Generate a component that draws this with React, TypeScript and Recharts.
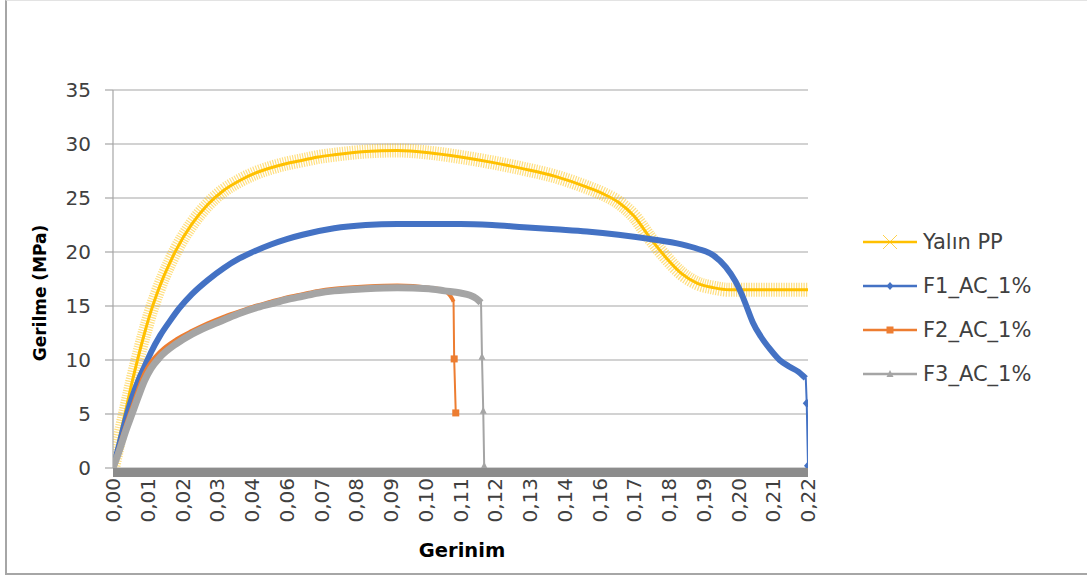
import { LineChart, Line, XAxis, YAxis, CartesianGrid, ReferenceLine, Legend, Label } from 'recharts';

// Gerinim (strain) / Gerilme (MPa) değerleri
const yalinStrain = [0, 0.002, 0.004, 0.006, 0.008, 0.01, 0.012, 0.014, 0.016, 0.018, 0.02, 0.025, 0.03, 0.035, 0.04, 0.045, 0.05, 0.055, 0.06, 0.065, 0.07, 0.08, 0.09, 0.1, 0.11, 0.12, 0.13, 0.14, 0.15, 0.155, 0.16, 0.165, 0.17, 0.175, 0.18, 0.185, 0.19, 0.195, 0.2, 0.21, 0.22];
const yalinStress = [0, 2.7, 5.3, 7.9, 10.3, 12.5, 14.5, 16.2, 17.7, 19.0, 20.2, 22.6, 24.4, 25.7, 26.6, 27.3, 27.8, 28.2, 28.5, 28.8, 29.0, 29.3, 29.4, 29.2, 28.8, 28.3, 27.7, 27.0, 26.0, 25.4, 24.6, 23.3, 21.3, 19.5, 18.0, 17.1, 16.7, 16.5, 16.5, 16.5, 16.5];

const f1Strain = [0, 0.002, 0.004, 0.006, 0.008, 0.01, 0.012, 0.015, 0.018, 0.021, 0.025, 0.03, 0.035, 0.04, 0.045, 0.05, 0.055, 0.06, 0.07, 0.08, 0.09, 0.1, 0.11, 0.12, 0.13, 0.14, 0.15, 0.16, 0.17, 0.18, 0.185, 0.19, 0.194, 0.197, 0.199, 0.2005, 0.2025, 0.205, 0.208, 0.211, 0.214, 0.217, 0.2193, 0.2196, 0.22];
const f1Stress = [0, 2.2, 4.5, 6.5, 8.1, 9.4, 10.7, 12.3, 13.6, 14.8, 16.1, 17.4, 18.5, 19.4, 20.1, 20.7, 21.2, 21.6, 22.2, 22.5, 22.6, 22.6, 22.6, 22.5, 22.3, 22.1, 21.9, 21.6, 21.2, 20.7, 20.3, 19.7, 18.6, 17.3, 16.1, 15.0, 13.5, 12.2, 11.0, 10.0, 9.4, 8.9, 8.3, 6.0, 0.2];

const f2Strain = [0, 0.002, 0.004, 0.006, 0.008, 0.01, 0.012, 0.015, 0.02, 0.025, 0.03, 0.035, 0.04, 0.045, 0.05, 0.055, 0.06, 0.065, 0.07, 0.08, 0.09, 0.1, 0.104, 0.106, 0.1075, 0.1078, 0.108, 0.1085];
const f2Stress = [0, 2.0, 3.9, 5.6, 7.3, 8.8, 9.8, 10.8, 11.9, 12.7, 13.4, 14.0, 14.5, 15.0, 15.4, 15.8, 16.1, 16.4, 16.6, 16.8, 16.9, 16.7, 16.5, 16.2, 15.6, 15.4, 10.1, 5.1];

const f3Strain = [0, 0.002, 0.004, 0.006, 0.008, 0.01, 0.012, 0.015, 0.02, 0.025, 0.03, 0.035, 0.04, 0.045, 0.05, 0.055, 0.06, 0.065, 0.07, 0.08, 0.09, 0.1, 0.105, 0.11, 0.113, 0.115, 0.1165, 0.1168, 0.1172, 0.1175];
const f3Stress = [0, 1.6, 3.4, 5.0, 6.6, 8.1, 9.2, 10.3, 11.5, 12.4, 13.1, 13.7, 14.3, 14.8, 15.2, 15.6, 15.9, 16.2, 16.4, 16.6, 16.7, 16.6, 16.4, 16.2, 16.0, 15.7, 15.3, 10.3, 5.3, 0.2];

const xTickLabels = ['0,00', '0,01', '0,02', '0,03', '0,04', '0,06', '0,07', '0,08', '0,09', '0,10', '0,11', '0,12', '0,13', '0,14', '0,16', '0,17', '0,18', '0,19', '0,20', '0,21', '0,22'];
const yTicks = [0, 5, 10, 15, 20, 25, 30, 35];

const seriesNames = ['Yalın PP', 'F1_AC_1%', 'F2_AC_1%', 'F3_AC_1%'];
const seriesColors = ['#FFC000', '#4472C4', '#ED7D31', '#A5A5A5'];

const toPoints = (xs: number[], ys: number[]) => xs.map((x, i) => ({ x, y: ys[i] }));

const yalin = toPoints(yalinStrain, yalinStress);
const f1 = toPoints(f1Strain, f1Stress);
const f2 = toPoints(f2Strain, f2Stress);
const f3 = toPoints(f3Strain, f3Stress);

// kırılma anındaki son noktalar işaretçiyle gösteriliyor
const f1Drop = f1.slice(-2);
const f2Drop = f2.slice(-2);
const f3Drop = f3.slice(-3);

const xTicks = xTickLabels.map((_, i) => (i * 0.22) / (xTickLabels.length - 1));

const FONT = '"DejaVu Sans", sans-serif';

const Diamond = (p: any) => (
  <path key={`dm-${p.index}`} d={`M${p.cx},${p.cy - 4.5}L${p.cx + 4},${p.cy}L${p.cx},${p.cy + 4.5}L${p.cx - 4},${p.cy}Z`} fill="#4472C4" />
);
const Square = (p: any) => (
  <rect key={`sq-${p.index}`} x={p.cx - 3.5} y={p.cy - 3.5} width={7} height={7} fill="#ED7D31" />
);
const Triangle = (p: any) => (
  <path key={`tr-${p.index}`} d={`M${p.cx},${p.cy - 4}L${p.cx + 3.5},${p.cy + 3}L${p.cx - 3.5},${p.cy + 3}Z`} fill="#A5A5A5" />
);

const XTick = (props: any) => {
  const { x, y, index } = props;
  const ax = x + 7;
  const ay = y + 2;
  return (
    <text x={ax} y={ay} transform={`rotate(-90 ${ax} ${ay})`} textAnchor="end" fontSize={20} fontFamily={FONT} fill="#404040">
      {xTickLabels[index]}
    </text>
  );
};

const LegendIcon = ({ i }: { i: number }) => {
  const c = seriesColors[i];
  const cx = 27;
  const cy = 10;
  let marker = null;
  if (i === 0) {
    marker = (
      <g stroke={c} strokeWidth={1} opacity={0.7}>
        <line x1={cx - 7} y1={cy - 7} x2={cx + 7} y2={cy + 7} />
        <line x1={cx - 7} y1={cy + 7} x2={cx + 7} y2={cy - 7} />
      </g>
    );
  } else if (i === 1) {
    marker = <path d={`M${cx},${cy - 4}L${cx + 3.5},${cy}L${cx},${cy + 4}L${cx - 3.5},${cy}Z`} fill={c} />;
  } else if (i === 2) {
    marker = <rect x={cx - 3.5} y={cy - 3.5} width={7} height={7} fill={c} />;
  } else {
    marker = <path d={`M${cx},${cy - 4}L${cx + 3.5},${cy + 3}L${cx - 3.5},${cy + 3}Z`} fill={c} />;
  }
  return (
    <svg width={54} height={20} style={{ display: 'block' }}>
      <line x1={0} y1={cy} x2={54} y2={cy} stroke={c} strokeWidth={2.5} />
      {marker}
    </svg>
  );
};

const renderLegend = () => (
  <div style={{ fontFamily: FONT }}>
    {seriesNames.map((name, i) => (
      <div key={name} style={{ display: 'flex', alignItems: 'center', height: 44 }}>
        <LegendIcon i={i} />
        <span style={{ marginLeft: 6, fontSize: 21, color: '#404040' }}>{name}</span>
      </div>
    ))}
  </div>
);

export default function App() {
  return (
    <div style={{ position: 'absolute', left: 0, top: 0, width: 1087, height: 576, background: '#fff', overflow: 'hidden' }}>
      <div
        style={{
          position: 'absolute',
          left: 5,
          top: 0,
          width: 1100,
          height: 572,
          borderLeft: '2px solid #a6a6a6',
          borderBottom: '2px solid #a6a6a6',
          borderTop: '1px solid #e3e3e3',
        }}
      />
      <LineChart width={1087} height={576} margin={{ top: 90, right: 279, bottom: 48, left: 0 }} style={{ position: 'absolute', left: 0, top: 0 }}>
        <CartesianGrid horizontal vertical={false} stroke="#a6a6a6" strokeWidth={1.2} />
        <XAxis
          type="number"
          dataKey="x"
          domain={[0, 0.22]}
          allowDataOverflow
          ticks={xTicks}
          interval={0}
          height={60}
          axisLine={false}
          tickLine={false}
          tick={<XTick />}
        >
          <Label
            content={() => (
              <text x={462} y={557} textAnchor="middle" fontSize={19.5} fontWeight="bold" fontFamily={FONT} fill="#000">
                Gerinim
              </text>
            )}
          />
        </XAxis>
        <YAxis
          type="number"
          domain={[0, 35]}
          allowDataOverflow
          ticks={yTicks}
          interval={0}
          width={113}
          axisLine={{ stroke: '#a6a6a6', strokeWidth: 1.2 }}
          tickLine={{ stroke: '#a6a6a6', strokeWidth: 1.2 }}
          tickSize={8}
          tickMargin={14}
          tick={{ fontSize: 20, fontFamily: FONT, fill: '#404040' }}
        >
          <Label
            content={() => (
              <text x={46} y={293} transform="rotate(-90 46 293)" textAnchor="middle" fontSize={17} fontWeight="bold" fontFamily={FONT} fill="#000">
                Gerilme (MPa)
              </text>
            )}
          />
        </YAxis>

        {/* Yalın PP: yoğun X işaretçileri geniş, taralı bir bant oluşturur */}
        <Line data={yalin} dataKey="y" type="monotone" stroke="#FFC000" strokeOpacity={0.5} strokeWidth={14} strokeDasharray="1.2 1.3" dot={false} isAnimationActive={false} legendType="none" />
        <Line data={yalin} dataKey="y" type="monotone" stroke="#FFC000" strokeWidth={3} dot={false} isAnimationActive={false} legendType="none" />

        <Line data={f1.slice(0, -2)} dataKey="y" type="monotone" stroke="#4472C4" strokeWidth={6} dot={false} isAnimationActive={false} legendType="none" />
        <Line data={f1} dataKey="y" type="linear" stroke="#4472C4" strokeWidth={2} dot={false} isAnimationActive={false} legendType="none" />
        <Line data={f1Drop} dataKey="y" stroke="none" dot={Diamond} isAnimationActive={false} legendType="none" />

        <Line data={f2.slice(0, -2)} dataKey="y" type="monotone" stroke="#ED7D31" strokeWidth={4} dot={false} isAnimationActive={false} legendType="none" />
        <Line data={f2} dataKey="y" type="linear" stroke="#ED7D31" strokeWidth={2} dot={false} isAnimationActive={false} legendType="none" />
        <Line data={f2Drop} dataKey="y" stroke="none" dot={Square} isAnimationActive={false} legendType="none" />

        <Line data={f3.slice(0, -3)} dataKey="y" type="monotone" stroke="#A5A5A5" strokeWidth={7} dot={false} isAnimationActive={false} legendType="none" />
        <Line data={f3} dataKey="y" type="linear" stroke="#A5A5A5" strokeWidth={2} dot={false} isAnimationActive={false} legendType="none" />
        <Line data={f3Drop} dataKey="y" stroke="none" dot={Triangle} isAnimationActive={false} legendType="none" />

        {/* sıfır seviyesindeki koyu gri bant */}
        <ReferenceLine
          y={0}
          ifOverflow="visible"
          shape={(p: any) => <rect x={p.x1} y={p.y1} width={p.x2 - p.x1} height={9} fill="#8c8c8c" />}
        />

        <Legend
          layout="vertical"
          align="center"
          verticalAlign="middle"
          content={renderLegend}
          wrapperStyle={{ left: 863, top: 220, width: 224 }}
        />
      </LineChart>
    </div>
  );
}
